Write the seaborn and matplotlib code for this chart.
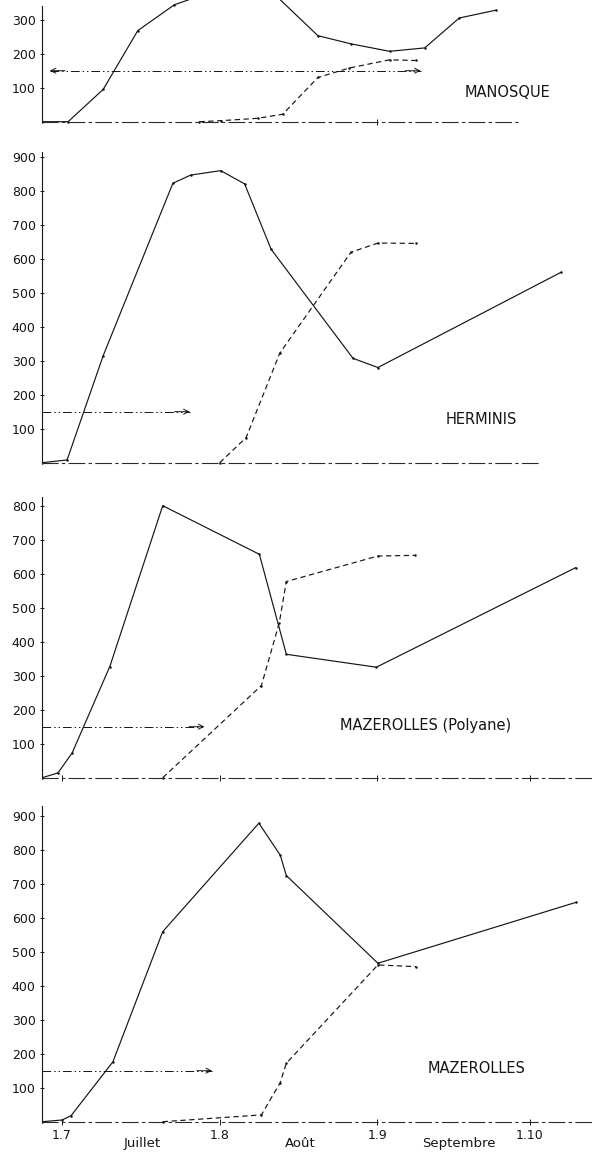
import matplotlib
matplotlib.use("Agg")
import matplotlib.pyplot as plt
import seaborn as sns
import pandas as pd

# ---------------- data (days counted from 1 July) ----------------
sites = ["MANOSQUE", "HERMINIS", "MAZEROLLES (Polyane)", "MAZEROLLES"]

manosque_solid_days = [-3.9, 1.2, 8.1, 14.9, 22.1, 29, 35, 40, 50.3, 56.8, 64.4, 71.3, 78.1, 85.3]
manosque_solid_vals = [0, 0, 95, 268, 344, 380, 410, 400, 253, 229, 207, 217, 305, 328]
manosque_dash_days = [27, 31.2, 38.5, 43.4, 50.3, 56.5, 64.4, 69.5]
manosque_dash_vals = [0, 3, 10, 22, 130, 158, 182, 180]

herminis_solid_days = [-3.9, 1.0, 8.1, 21.8, 25.3, 31.2, 35.9, 41.1, 57.2, 62.1, 98.1]
herminis_solid_vals = [0, 8, 315, 822, 846, 859, 820, 628, 307, 280, 560]
herminis_dash_days = [31.0, 36.2, 42.8, 56.8, 62.1, 69.6]
herminis_dash_vals = [0, 74, 322, 619, 646, 645]

polyane_solid_days = [-3.9, -0.8, 2.0, 9.4, 19.8, 38.8, 44.1, 61.8, 101]
polyane_solid_vals = [0, 14, 73, 327, 800, 657, 363, 325, 618]
polyane_dash_days = [19.8, 39.2, 42.7, 44.1, 62.1, 69.3]
polyane_dash_vals = [0, 271, 455, 577, 652, 654]

mazerolles_solid_days = [-3.9, 0, 1.8, 10.0, 19.8, 38.7, 42.9, 44.1, 62.1, 101]
mazerolles_solid_vals = [0, 5, 18, 176, 559, 878, 784, 724, 466, 645]
mazerolles_dash_days = [19.8, 39.2, 42.9, 44.1, 62.1, 69.6]
mazerolles_dash_vals = [0, 20, 115, 172, 461, 456]

arrow_level = 150
arrow_starts = [-2.4, -3.9, -3.9, -3.9]
arrow_ends = [70.5, 25.1, 28.0, 29.5]
arrow_double = [True, False, False, False]

yticks_per_panel = [[100, 200, 300],
                    list(range(100, 1000, 100)),
                    list(range(100, 900, 100)),
                    list(range(100, 1000, 100))]

xtick_days = [0, 31, 62, 92]
xtick_labels = ["1.7", "1.8", "1.9", "1.10"]
month_days = [15.7, 46.8, 78]
month_labels = ["Juillet", "Août", "Septembre"]

label_pos_day = [87.5, 82.5, 71.5, 81.5]
label_pos_val = [87, 128, 155, 157]

# ---------------- layout ----------------
W, H = 592, 1154
PX_PER_DAY = 5.087
X0_PX = 62           # pixel of 1 July
PX_PER_UNIT = 0.34
LEFT_PX = 42
xmin = (LEFT_PX - X0_PX) / PX_PER_DAY
xmax = (W - X0_PX) / PX_PER_DAY
YMIN = -8

panel_baselines = [121.7, 462.7, 777.7, 1121.7]
panel_ytop = [358, 960, 850, 950]
panel_spine_top = [340, 915, 825, 930]
panel_axis_extent = [90, 94, 104, 104]
panel_xticks = [[62], [], xtick_days, xtick_days]

solid_sets = [(manosque_solid_days, manosque_solid_vals), (herminis_solid_days, herminis_solid_vals),
              (polyane_solid_days, polyane_solid_vals), (mazerolles_solid_days, mazerolles_solid_vals)]
dash_sets = [(manosque_dash_days, manosque_dash_vals), (herminis_dash_days, herminis_dash_vals),
             (polyane_dash_days, polyane_dash_vals), (mazerolles_dash_days, mazerolles_dash_vals)]

sns.set_theme(style="white")
plt.rcParams["font.family"] = ["DejaVu Sans"]
INK = "#151515"

fig = plt.figure(figsize=(W / 100, H / 100), dpi=100)
fig.patch.set_facecolor("white")

for i in range(4):
    base = panel_baselines[i]
    bottom_px = base - YMIN * PX_PER_UNIT
    top_px = base - panel_ytop[i] * PX_PER_UNIT
    rect = [LEFT_PX / W, 1 - bottom_px / H, (W - LEFT_PX) / W, (bottom_px - top_px) / H]
    ax = fig.add_axes(rect)
    ax.set_facecolor("none")
    ax.set_xlim(xmin, xmax)
    ax.set_ylim(YMIN, panel_ytop[i])

    sd, sv = solid_sets[i]
    dd, dv = dash_sets[i]
    df_s = pd.DataFrame({"day": sd, "n": sv})
    df_d = pd.DataFrame({"day": dd, "n": dv})
    sns.lineplot(data=df_s, x="day", y="n", ax=ax, color=INK, lw=0.85, sort=False,
                 estimator=None, marker="o", markersize=1.8, markeredgewidth=0)
    sns.lineplot(data=df_d, x="day", y="n", ax=ax, color=INK, lw=0.85, sort=False,
                 estimator=None, linestyle=(0, (4.5, 3)), marker="o", markersize=1.8,
                 markeredgewidth=0)

    # arrow
    a0, a1 = arrow_starts[i], arrow_ends[i]
    df_a = pd.DataFrame({"day": [a0, a1], "n": [arrow_level, arrow_level]})
    sns.lineplot(data=df_a, x="day", y="n", ax=ax, color=INK, lw=0.7, sort=False,
                 estimator=None, linestyle=(0, (9, 3, 1.5, 3, 1.5, 3)))
    ax.annotate("", xy=(a1, arrow_level), xytext=(a1 - 3, arrow_level),
                arrowprops=dict(arrowstyle="->", lw=0.7, color=INK, shrinkA=0, shrinkB=0,
                                mutation_scale=9))
    if arrow_double[i]:
        ax.annotate("", xy=(a0, arrow_level), xytext=(a0 + 3, arrow_level),
                    arrowprops=dict(arrowstyle="->", lw=0.7, color=INK, shrinkA=0, shrinkB=0,
                                    mutation_scale=9))

    # axes styling
    for s in ["top", "right"]:
        ax.spines[s].set_visible(False)
    ax.spines["left"].set_bounds(0, panel_spine_top[i])
    ax.spines["left"].set_color(INK)
    ax.spines["left"].set_linewidth(0.8)
    ax.spines["bottom"].set_position(("data", 0))
    ax.spines["bottom"].set_bounds(xmin, panel_axis_extent[i])
    ax.spines["bottom"].set_color("#2a2a2a")
    ax.spines["bottom"].set_linewidth(0.8)
    ax.spines["bottom"].set_linestyle((0, (14, 4, 2, 4)))

    ax.set_yticks(yticks_per_panel[i])
    ax.set_yticklabels([str(v) for v in yticks_per_panel[i]], fontsize=9, color=INK)
    ax.tick_params(axis="y", direction="inout", length=3, width=0.7, pad=3, colors=INK, left=True)
    ax.set_xticks(panel_xticks[i])
    if i == 3:
        ax.set_xticklabels(xtick_labels, fontsize=9, color=INK)
    else:
        ax.set_xticklabels([""] * len(panel_xticks[i]))
    ax.tick_params(axis="x", direction="inout", length=5, width=0.7, pad=3, colors=INK, bottom=True)
    ax.set_xlabel("")
    ax.set_ylabel("")
    ax.grid(False)

    ax.text(label_pos_day[i], label_pos_val[i], sites[i], ha="center", va="center",
            fontsize=10.5, color=INK)

    if i == 3:
        for d, m in zip(month_days, month_labels):
            ax.text(d, -63, m, ha="center", va="center", fontsize=9.5, color=INK)

fig.savefig("out.png", dpi=100, facecolor="white")
